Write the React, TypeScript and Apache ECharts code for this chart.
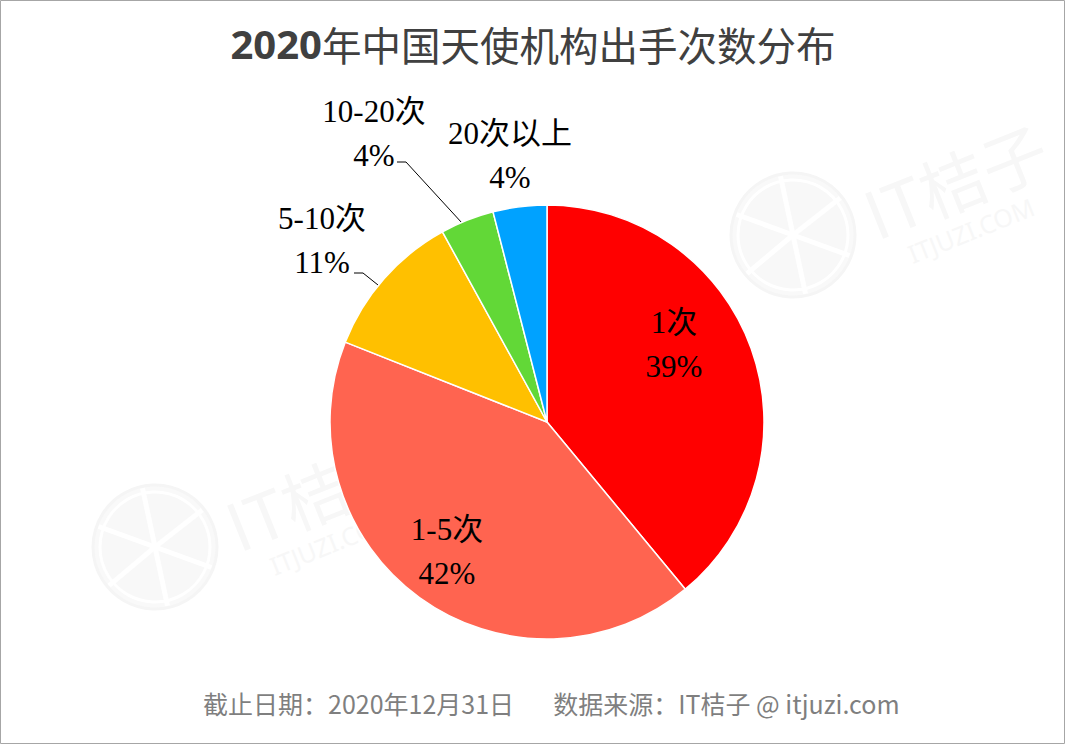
import React, { useEffect, useRef } from "react";
import * as echarts from "echarts";

const categories = ["1次", "1-5次", "5-10次", "10-20次", "20次以上"];
const values = [39, 42, 11, 4, 4];
const colors = ["#FF0000", "#FF6450", "#FFC000", "#62D837", "#00A2FF"];
const titleYear = "2020";
const titleRest = "年中国天使机构出手次数分布";
const footerText = "截止日期：2020年12月31日       数据来源：IT桔子 @ itjuzi.com";

// label layout (visual positions only)
const labelPos: { x: number; y: number; line?: number[][] }[] = [
  { x: 674, y: 344 },
  { x: 447, y: 551 },
  { x: 322, y: 240, line: [[378, 285], [363, 273], [354, 273]] },
  { x: 374, y: 133, line: [[462, 223], [406, 162], [397, 162]] },
  { x: 510, y: 155 },
];

function watermark(cx: number, cy: number) {
  const spokes: any[] = [];
  const base = [20, 78, 140, 200, 258, 322];
  base.forEach((a) => {
    const r = (a * Math.PI) / 180;
    spokes.push({
      type: "line",
      shape: { x1: cx, y1: cy, x2: cx + Math.cos(r) * 60, y2: cy + Math.sin(r) * 60 },
      style: { stroke: "#ffffff", lineWidth: 5 },
      silent: true,
    });
  });
  return [
    { type: "circle", shape: { cx, cy, r: 62 }, style: { fill: "#f9f9f9", stroke: "#f5f5f5", lineWidth: 3 }, silent: true },
    { type: "circle", shape: { cx, cy, r: 55 }, style: { fill: "#f8f8f8", stroke: "#ffffff", lineWidth: 3 }, silent: true },
    ...spokes,
    {
      type: "text",
      x: cx + 162,
      y: cy - 56,
      rotation: 0.38,
      style: { text: "IT桔子", fill: "#f7f7f7", font: "66px 'Noto Sans CJK SC', sans-serif", align: "center", verticalAlign: "middle" },
      silent: true,
    },
    {
      type: "text",
      x: cx + 178,
      y: cy - 5,
      rotation: 0.38,
      style: { text: "ITJUZI.COM", fill: "#f7f7f7", font: "25px 'Noto Sans', sans-serif", align: "center", verticalAlign: "middle" },
      silent: true,
    },
  ];
}

export default function App() {
  const ref = useRef<HTMLDivElement>(null);
  useEffect(() => {
    document.body.style.margin = "0";
    if (!ref.current) return;
    const chart = echarts.init(ref.current, null, { renderer: "svg" });
    const data = categories.map((name, i) => ({
      name,
      value: values[i],
      itemStyle: { color: colors[i] },
      labelLine: { show: !!labelPos[i].line, lineStyle: { color: "#000", width: 1 } },
    }));
    chart.setOption({
      animation: false,
      backgroundColor: "#ffffff",
      title: [
        {
          text: `{b|${titleYear}}{n|${titleRest}}`,
          left: "center",
          top: 18,
          textStyle: {
            rich: {
              b: { fontFamily: "'Noto Sans', 'Liberation Sans', sans-serif", fontWeight: "bold", fontSize: 40, color: "#404040" },
              n: { fontFamily: "'Noto Sans CJK SC', sans-serif", fontWeight: "normal", fontSize: 39.5, color: "#404040" },
            },
          },
        },
        {
          text: footerText,
          left: 198,
          top: 685,
          textStyle: { fontFamily: "'Noto Sans CJK SC', sans-serif", fontWeight: "normal", fontSize: 25, color: "#7f7f7f" },
        },
      ],
      graphic: [
        ...watermark(793, 235),
        ...watermark(155, 547),
        {
          type: "rect",
          shape: { x: 0.5, y: 0.5, width: 1064, height: 743 },
          style: { fill: "none", stroke: "#a6a6a6", lineWidth: 1 },
          silent: true,
        },
      ],
      series: [
        {
          type: "pie",
          center: [547, 422],
          radius: 217,
          startAngle: 90,
          clockwise: true,
          data,
          itemStyle: { borderColor: "#ffffff", borderWidth: 1.5 },
          label: {
            show: true,
            formatter: "{b}\n{c}%",
            fontFamily: "'Liberation Serif', 'Noto Sans CJK SC', serif",
            fontSize: 31,
            lineHeight: 44,
            color: "#000000",
            align: "center",
          },
          labelLine: { show: true, length: 10, length2: 10 },
          labelLayout: (params: any) => {
            const p = labelPos[params.dataIndex];
            const out: any = { x: p.x, y: p.y, align: "center", verticalAlign: "middle" };
            if (p.line) out.labelLinePoints = p.line;
            return out;
          },
          emphasis: { disabled: true },
        },
      ],
    });
    return () => chart.dispose();
  }, []);
  return <div ref={ref} style={{ width: 1066, height: 745 }} />;
}
